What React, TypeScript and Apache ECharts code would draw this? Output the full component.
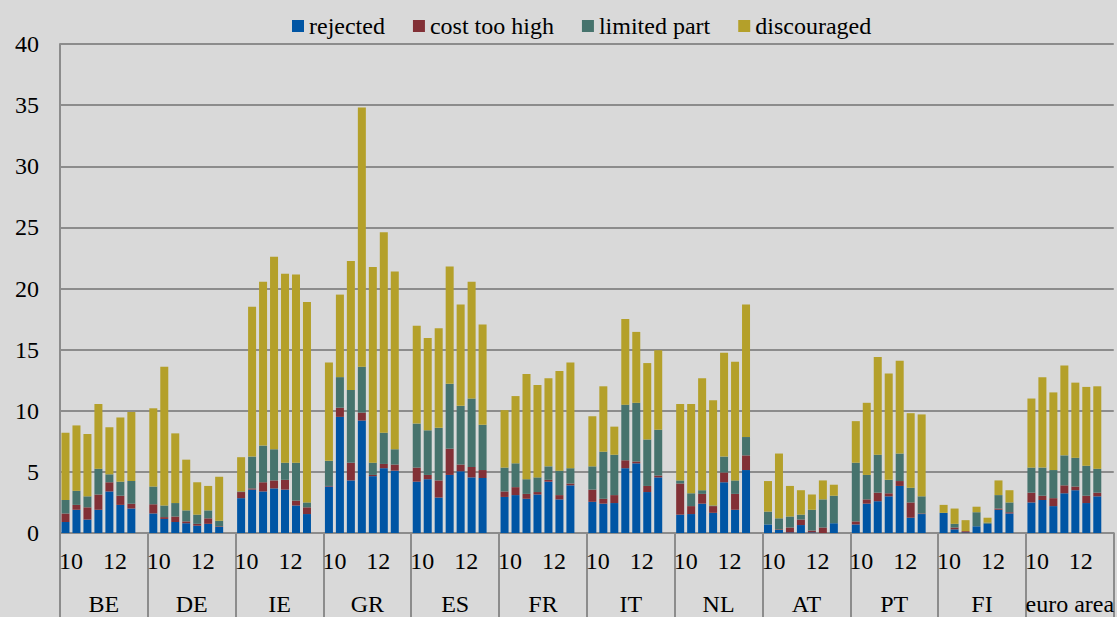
import React, { useEffect, useRef } from "react";
import * as echarts from "echarts";

const countries = ["BE", "DE", "IE", "GR", "ES", "FR", "IT", "NL", "AT", "PT", "FI", "euro area"];
const yearTicks = ["10", "", "12", ""];
const seriesNames = ["rejected", "cost too high", "limited part", "discouraged"];
const colors = ["#0055A4", "#823036", "#46736D", "#B4A02A"];

const rejected = [
  [0.9, 1.9, 1.1, 1.9, 3.4, 2.3, 2.0],
  [1.6, 1.15, 0.9, 0.8, 0.6, 0.75, 0.5],
  [2.85, 3.55, 3.4, 3.65, 3.55, 2.25, 1.55],
  [3.8, 9.5, 4.3, 9.2, 4.65, 5.3, 5.1],
  [4.2, 4.4, 2.9, 4.75, 5.05, 4.55, 4.5],
  [2.95, 3.1, 2.8, 3.15, 4.2, 2.75, 3.9],
  [2.55, 2.4, 2.45, 5.3, 5.7, 3.35, 4.55],
  [1.5, 1.55, 2.4, 1.65, 4.15, 1.9, 5.15],
  [0.7, 0.25, 0.05, 0.65, 0.05, 0, 0.8],
  [0.7, 2.4, 2.6, 3.0, 3.85, 1.25, 1.55],
  [1.65, 0.3, 0.05, 0.55, 0.75, 1.9, 1.6],
  [2.5, 2.7, 2.2, 3.25, 3.5, 2.45, 3.0],
];
const costTooHigh = [
  [0.7, 0.4, 1.0, 1.25, 0.75, 0.75, 0.4],
  [0.75, 0.15, 0.45, 0.15, 0.15, 0.45, 0.05],
  [0.5, 0.1, 0.75, 0.65, 0.8, 0.4, 0.55],
  [0.05, 0.75, 1.45, 0.65, 0.1, 0.35, 0.5],
  [1.15, 0.35, 1.4, 2.15, 0.55, 0.85, 0.65],
  [0.45, 0.65, 0.4, 0.2, 0.15, 0.35, 0.15],
  [1.0, 0.4, 0.65, 0.65, 0.15, 0.5, 0.15],
  [2.55, 0.65, 0.8, 0.55, 0.8, 1.3, 1.2],
  [0, 0.05, 0.4, 0.45, 0.15, 0.45, 0],
  [0.25, 0.35, 0.7, 0.25, 0.4, 1.25, 0.05],
  [0, 0.15, 0.1, 0, 0, 0.1, 0.1],
  [0.8, 0.35, 0.65, 0.65, 0.3, 0.6, 0.3],
];
const limitedPart = [
  [1.1, 1.15, 0.9, 2.1, 0.65, 1.15, 1.85],
  [1.45, 0.95, 1.1, 0.9, 0.75, 0.65, 0.45],
  [0.05, 2.6, 3.0, 2.55, 1.4, 3.1, 0.4],
  [2.05, 2.5, 5.95, 3.75, 1.0, 2.55, 1.25],
  [3.6, 3.65, 4.3, 5.3, 4.8, 5.6, 3.7],
  [1.95, 1.95, 1.2, 1.2, 1.1, 2.0, 1.25],
  [1.9, 3.85, 3.3, 4.55, 4.8, 3.8, 3.75],
  [0.25, 1.05, 0.3, 0.05, 1.3, 1.1, 1.5],
  [1.05, 0.9, 0.9, 0.4, 1.7, 2.3, 2.25],
  [4.8, 2.0, 3.1, 1.1, 2.25, 1.2, 1.4],
  [0, 0.3, 0, 1.15, 0.1, 1.1, 0.8],
  [2.05, 2.3, 2.3, 2.45, 2.35, 2.45, 1.95],
];
const discouraged = [
  [5.5, 5.35, 5.1, 5.3, 3.85, 5.25, 5.65],
  [6.4, 11.35, 5.7, 4.15, 2.65, 2.0, 3.6],
  [2.8, 12.25, 13.4, 15.75, 15.45, 15.4, 16.4],
  [8.05, 6.75, 10.55, 21.2, 16.0, 16.4, 14.55],
  [8.0, 7.55, 8.15, 9.6, 8.3, 9.55, 8.2],
  [4.7, 5.5, 8.6, 7.55, 7.2, 8.15, 8.65],
  [4.1, 5.35, 2.3, 7.0, 5.8, 6.25, 6.5],
  [6.25, 7.3, 9.15, 8.6, 8.5, 9.7, 10.85],
  [2.5, 5.3, 2.5, 2.0, 1.25, 1.55, 0.9],
  [3.4, 5.9, 8.0, 8.7, 7.6, 6.1, 6.7],
  [0.65, 1.25, 0.9, 0.45, 0.4, 1.2, 1.0],
  [5.65, 7.4, 6.35, 7.35, 6.15, 6.45, 6.75],
];

const FONT = "Liberation Serif";
const GREY = "#8c8c8c";

function flatten(groups: number[][]) {
  const out: (number | string)[] = [];
  groups.forEach((g) => {
    g.forEach((v) => out.push(v));
    out.push("-");
  });
  return out;
}

export default function App() {
  const ref = useRef<HTMLDivElement>(null);
  useEffect(() => {
    document.body.style.margin = "0";
    document.body.style.background = "#d9d9d9";
    const chart = echarts.init(ref.current!, null, { renderer: "svg" });
    const slots: string[] = [];
    countries.forEach((c) => {
      for (let i = 0; i < 8; i++) slots.push(c + i);
    });
    const pairs: string[] = [];
    countries.forEach(() => yearTicks.forEach((t) => pairs.push(t)));
    const all = [rejected, costTooHigh, limitedPart, discouraged];
    chart.setOption({
      animation: false,
      backgroundColor: "#d9d9d9",
      textStyle: { fontFamily: FONT },
      legend: {
        top: 9,
        left: 287,
        itemWidth: 12,
        itemHeight: 12,
        itemGap: 28,
        icon: "rect",
        textStyle: { fontFamily: FONT, fontSize: 24, color: "#000" },
        data: seriesNames,
      },
      grid: { left: 60, right: 0, top: 44, bottom: 84, containLabel: false },
      xAxis: [
        {
          type: "category",
          data: slots,
          position: "bottom",
          axisLine: { lineStyle: { color: GREY, width: 2 } },
          axisTick: {
            show: true,
            interval: (i: number) => i % 8 === 0,
            length: 84,
            lineStyle: { color: GREY, width: 2 },
          },
          axisLabel: { show: false },
        },
        {
          type: "category",
          data: pairs,
          position: "bottom",
          offset: 0,
          axisLine: { show: false },
          axisTick: { show: false },
          axisLabel: {
            interval: 0,
            margin: 16,
            fontFamily: FONT,
            fontSize: 24,
            color: "#000",
          },
        },
        {
          type: "category",
          data: countries,
          position: "bottom",
          offset: 0,
          axisLine: { show: false },
          axisTick: { show: false },
          axisLabel: {
            interval: 0,
            margin: 59,
            fontFamily: FONT,
            fontSize: 24,
            color: "#000",
          },
        },
      ],
      yAxis: {
        type: "value",
        min: 0,
        max: 40,
        interval: 5,
        axisLine: { show: true, lineStyle: { color: GREY, width: 2 } },
        axisTick: { show: false },
        splitLine: { lineStyle: { color: GREY, width: 2 } },
        axisLabel: { margin: 21, fontFamily: FONT, fontSize: 24, color: "#000" },
      },
      series: seriesNames.map((name, k) => ({
        name,
        type: "bar",
        stack: "total",
        xAxisIndex: 0,
        barWidth: 8,
        itemStyle: { color: colors[k] },
        data: flatten(all[k]),
      })),
    });
    return () => chart.dispose();
  }, []);
  return <div ref={ref} style={{ width: 1117, height: 617 }} />;
}
